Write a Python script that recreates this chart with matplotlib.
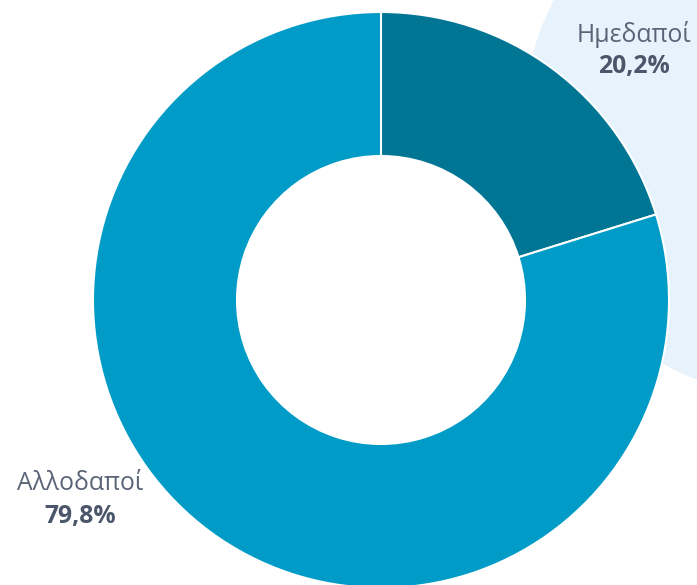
import matplotlib.pyplot as plt
from matplotlib.patches import Circle

# Δεδομένα
labels = ["Ημεδαποί", "Αλλοδαποί"]
values = [20.2, 79.8]
colors = ["#007594", "#009BC6"]

W, H = 697, 585

fig = plt.figure(figsize=(W / 100, H / 100), dpi=100)
ax = fig.add_axes([0, 0, 1, 1])

# light background circle (top right)
ax.add_patch(Circle((795, H - 126), 272, facecolor="#E6F3FD", edgecolor="none", zorder=0))

# donut
ax.pie(values, colors=colors, center=(381, H - 300), radius=288,
       startangle=90, counterclock=False,
       wedgeprops=dict(width=144, edgecolor="white", linewidth=1.5))

ax.set_xlim(0, W)
ax.set_ylim(0, H)
ax.set_aspect("equal")
ax.axis("off")

# labels
fam = ["Open Sans", "DejaVu Sans"]
pos = [(634, H - 34, H - 67), (80, H - 484, H - 517)]
for lab, v, (x, y1, y2) in zip(labels, values, pos):
    ax.text(x, y1, lab, ha="center", va="center", fontsize=17.8,
            color="#5A6477", family=fam)
    ax.text(x, y2, f"{v:.1f}%".replace(".", ","), ha="center", va="center",
            fontsize=17.8, fontweight="bold", color="#4B566B", family=fam)

fig.savefig("out.png", dpi=100)
